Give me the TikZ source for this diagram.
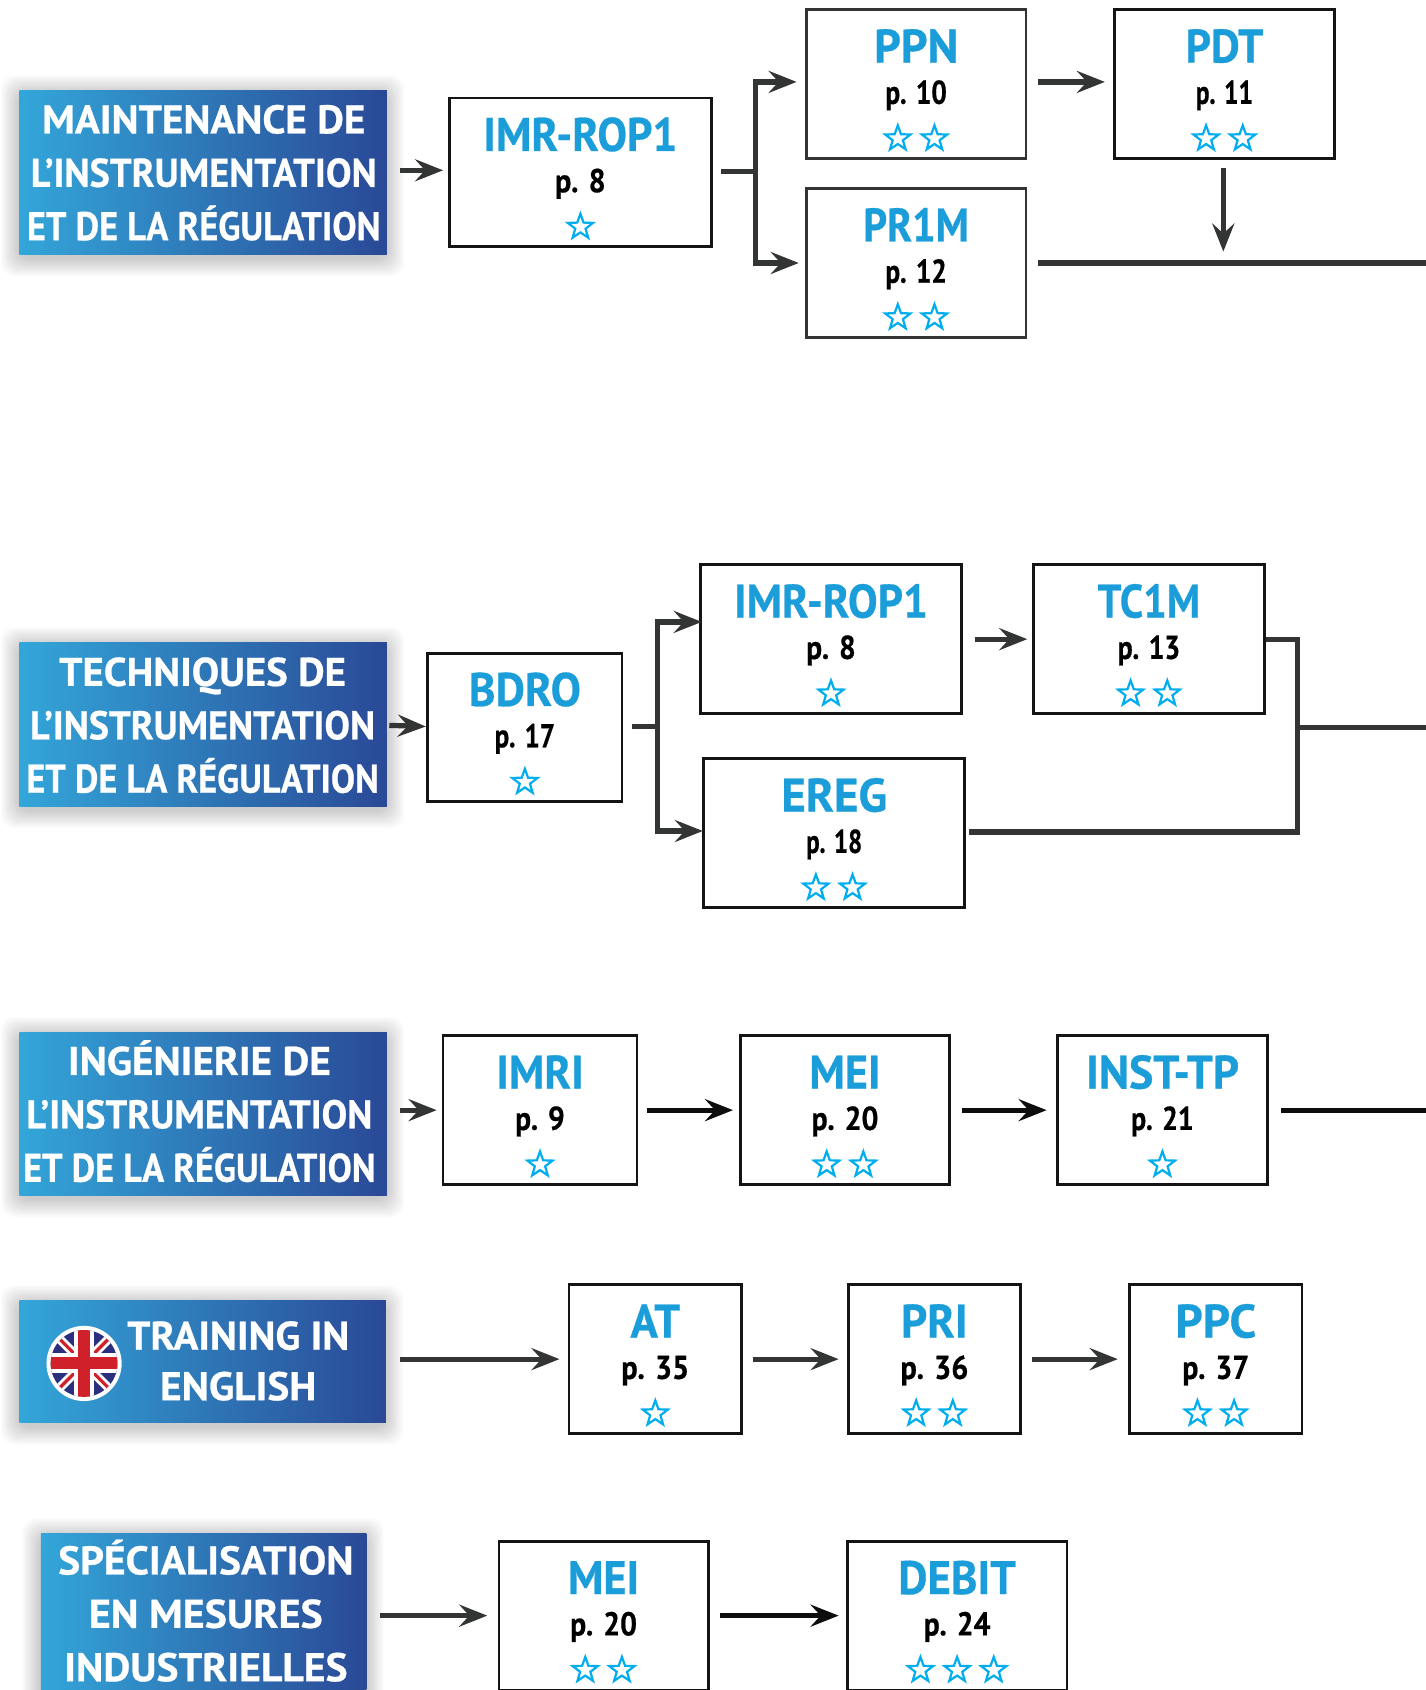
\documentclass[tikz,border=0pt]{standalone}
\usepackage{fontspec}
\usepackage{graphicx}
\setmainfont{PT Sans}[BoldFeatures={FakeBold=0.6}]
\usetikzlibrary{arrows.meta,shapes.geometric,calc}
\definecolor{ink}{HTML}{333534}
\definecolor{titlec}{HTML}{1B9DD9}
\definecolor{starc}{HTML}{00AEEF}
\definecolor{gradA}{HTML}{33A6D9}
\definecolor{gradB}{HTML}{2E63A6}
\definecolor{gradC}{HTML}{2A4996}
\definecolor{navy}{HTML}{2C2E7E}
\definecolor{jackred}{HTML}{D0202A}
\newlength\un \setlength\un{1.0779pt}
\newcommand\fitw[2]{\resizebox{#1\un}{\height}{#2}}
\def\boxc{black!92}
\tikzset{
  coursebox/.style={rectangle,draw=\boxc,line width=2.8pt,fill=white,inner sep=0pt,minimum height=138*\un},
  titletext/.style={anchor=base,inner sep=0pt,text=titlec,font=\bfseries\fontsize{47}{50}\selectfont},
  pagetext/.style={anchor=base,inner sep=0pt,text=black,font=\bfseries\fontsize{33}{36}\selectfont},
  ratestar/.style={star,star points=5,star point ratio=2.45,draw=starc,line width=2.2pt,fill=white,minimum size=26.5pt,inner sep=0pt},
  bannerbox/.style={rectangle,inner sep=0pt,left color=gradA,middle color=gradB,right color=gradC,shading angle=90},
  bannertext/.style={align=center,inner sep=0pt,text=white,font=\bfseries\fontsize{40}{53.4}\selectfont},
  bannertextb/.style={align=center,inner sep=0pt,text=white,font=\bfseries\fontsize{40}{50.5}\selectfont},
  link/.style={draw=ink,line width=5.2pt,shorten >=-1.5pt,-{Stealth[length=28pt,width=22pt,inset=10pt]}},
  linkk/.style={link,draw=black!95},
  wire/.style={draw=ink,line width=5.2pt},
  wirek/.style={draw=black!95,line width=5.2pt}
}
% name, x0, y0, x1, title width, title, page width, page, star offsets
\newcommand\course[9]{%
  \pgfmathsetmacro\cx{(#2+#4)/2}%
  \node[coursebox,minimum width={(#4-#2)*\un}] (#1) at (\cx,#3+69) {};
  \node[titletext] (#1-t) at (\cx,#3+49) {\fitw{#5}{#6}};
  \node[pagetext] (#1-p) at (\cx,#3+87.3) {\fitw{#7}{#8}};
  \foreach \dx [count=\k] in {#9}{
    \node[ratestar] (#1-s\k) at (\cx+\dx,#3+119.6) {};
  }%
}
\newcommand\banner[5]{%
  \foreach \e in {0.5,1.5,...,18}{
    \fill[black,opacity=0.011,rounded corners=14pt] (#2-\e,#3-\e+3) rectangle (#4+\e-1,#5+\e+3);
  }
  \pgfmathsetmacro\cx{(#2+#4)/2}%
  \pgfmathsetmacro\cy{(#3+#5)/2}%
  \node[bannerbox,minimum width={(#4-#2)*\un},minimum height={(#5-#3)*\un}] (#1) at (\cx,\cy) {};
}
\begin{document}
\begin{tikzpicture}[x=1.0779pt,y=-1.0779pt]
\useasboundingbox (0,0) rectangle (1323,1568);
\clip (0,0) rectangle (1323,1568);

% ---------- banners
\banner{B1}{18}{84}{359}{236}
\node[bannertext] (B1t) at (189,124+31) {\rule{0pt}{40pt}\fitw{300}{MAINTENANCE DE}\\\fitw{321}{L’INSTRUMENTATION}\\\fitw{328}{ET DE LA RÉGULATION}};
\banner{B2}{18}{596}{359}{748}
\node[bannertext] (B2t) at (188,636.6+31) {\rule{0pt}{40pt}\fitw{266}{TECHNIQUES DE}\\\fitw{320}{L’INSTRUMENTATION}\\\fitw{327}{ET DE LA RÉGULATION}};
\banner{B3}{18}{958}{359}{1109}
\node[bannertext] (B3t) at (185,997.6+31) {\rule{0pt}{40pt}\fitw{244}{INGÉNIERIE DE}\\\fitw{321}{L’INSTRUMENTATION}\\\fitw{327}{ET DE LA RÉGULATION}};
\banner{B4}{18}{1207}{358}{1320}
\node[bannertextb] (B4t) at (221,1252.4+5) {\rule{0pt}{40pt}\fitw{206}{TRAINING IN}\\\fitw{145}{ENGLISH}};
\banner{B5}{38}{1423}{340}{1600}
\node[bannertext] (B5t) at (191,1461+31) {\rule{0pt}{40pt}\fitw{274}{SPÉCIALISATION}\\\fitw{217}{EN MESURES}\\\fitw{263}{INDUSTRIELLES}};

% ---------- flag
\node[circle,fill=white,minimum size=37.6*2pt,inner sep=0pt] (flag) at (78,1265) {};
\begin{scope}
  \clip (78,1265) circle (31);
  \fill[navy] (40,1227) rectangle (116,1303);
  \draw[white,line width=9pt] (44,1231) -- (112,1299) (112,1231) -- (44,1299);
  \draw[jackred,line width=3.2pt] (44,1231) -- (112,1299) (112,1231) -- (44,1299);
  \draw[white,line width=20pt] (78,1227) -- (78,1303) (40,1265) -- (116,1265);
  \draw[jackred,line width=12pt] (78,1227) -- (78,1303) (40,1265) -- (116,1265);
\end{scope}

% ---------- course boxes
\course{imr1}{417}{91}{660}{180}{IMR-ROP1}{47}{p. 8}{0}
\def\boxc{ink}
\course{ppn}{748}{9}{952}{78}{PPN}{57}{p. 10}{-17,17}
\def\boxc{black!92}
\course{pdt}{1034}{9}{1238}{72}{PDT}{53}{p. 11}{-17,17}
\def\boxc{ink}
\course{pr1m}{748}{175}{952}{98}{PR1M}{57}{p. 12}{-17,17}
\def\boxc{black!92}
\course{bdro}{397}{606}{577}{104}{BDRO}{56}{p. 17}{0}
\course{imr2}{650}{524}{892}{180}{IMR-ROP1}{46}{p. 8}{0}
\course{tc1m}{959}{524}{1173}{95}{TC1M}{58}{p. 13}{-17,17}
\course{ereg}{653}{704}{895}{98}{EREG}{52}{p. 18}{-17,17}
\course{imri}{411}{961}{591}{81}{IMRI}{46}{p. 9}{0}
\course{mei1}{687}{961}{881}{66}{MEI}{62}{p. 20}{-17,17}
\course{inst}{981}{961}{1176}{142}{INST-TP}{58}{p. 21}{0}
\course{at}{528}{1192}{688}{46}{AT}{63}{p. 35}{0}
\course{pri}{787}{1192}{947}{62}{PRI}{63}{p. 36}{-17,17}
\course{ppc}{1048}{1192}{1208}{75}{PPC}{62}{p. 37}{-17,17}
\course{mei2}{463}{1430}{657}{66}{MEI}{62}{p. 20}{-17,17}
\course{debit}{786}{1430}{990}{109}{DEBIT}{62}{p. 24}{-34,0,34}

% ---------- free ends and junctions
\coordinate (j1) at (701,159);
\coordinate (e1) at (1323,244);
\coordinate (m1) at (1135,232);
\coordinate (j2) at (610,674);
\coordinate (j3) at (1204,675);
\coordinate (c3) at (1204,772);
\coordinate (e2) at (1323,675);
\coordinate (e3) at (1323,1030);

% ---------- row 1
\draw[link] ([shift={(12,-2)}]B1.east) -- ([shift={(-6,-2)}]imr1.west);
\draw[wire] ([shift={(8,-1)}]imr1.east) -- (j1);
\draw[link] (j1) |- ([shift={(-9,-2)}]ppn.west);
\draw[link] (j1) |- ([shift={(-7,0)}]pr1m.west);
\draw[link] ([shift={(10,-2)}]ppn.east) -- ([shift={(-9,-2)}]pdt.west);
\draw[link] ([shift={(-1,8)}]pdt.south) -- (m1);
\draw[wire] ([xshift=10*1.0779pt]pr1m.east) -- (e1);

% ---------- row 2
\draw[link] ([shift={(2,1)}]B2.east) -- ([shift={(-2,-1)}]bdro.west);
\draw[wire] ([shift={(8,-1)}]bdro.east) -- (j2);
\draw[link] (j2) |- ([shift={(1,-16)}]imr2.west);
\draw[link] (j2) |- ([shift={(-1,-2)}]ereg.west);
\draw[link] ([shift={(11,0)}]imr2.east) -- ([shift={(-6,0)}]tc1m.west);
\draw[wire] (tc1m.east) -| (c3) -- ($(ereg.east |- c3)+(3,0)$);
\draw[wire] (j3) -- (e2);

% ---------- row 3
\draw[link] ([shift={(12,-3.5)}]B3.east) -- ([shift={(-6,0)}]imri.west);
\draw[linkk] ([xshift=8*1.0779pt]imri.east) -- ([xshift=-7*1.0779pt]mei1.west);
\draw[linkk] ([xshift=10*1.0779pt]mei1.east) -- ([xshift=-10*1.0779pt]inst.west);
\draw[wirek] ([xshift=11*1.0779pt]inst.east) -- (e3);

% ---------- row 4
\draw[link] ([shift={(13,-2.5)}]B4.east) -- ([shift={(-9,0)}]at.west);
\draw[link] ([xshift=9*1.0779pt]at.east) -- ([xshift=-9*1.0779pt]pri.west);
\draw[link] ([xshift=9*1.0779pt]pri.east) -- ([xshift=-11*1.0779pt]ppc.west);

% ---------- row 5
\draw[link] ([shift={(12,-12.5)}]B5.east) -- ([xshift=-11*1.0779pt]mei2.west);
\draw[linkk] ([xshift=10*1.0779pt]mei2.east) -- ([xshift=-8*1.0779pt]debit.west);
\end{tikzpicture}
\end{document}
